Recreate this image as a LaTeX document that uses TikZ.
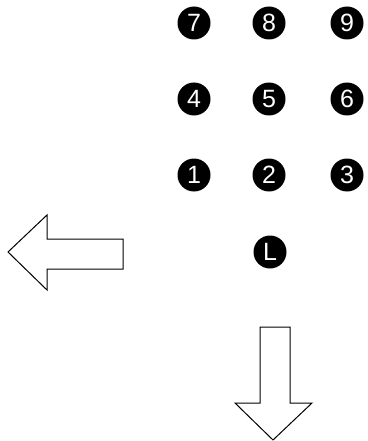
\documentclass[tikz,border=0pt]{standalone}
\usepackage{fontspec}
\setmainfont{Liberation Sans}
\begin{document}
\begin{tikzpicture}[x=1pt,y=-1pt,
  dot/.style={circle,fill=black,text=white,inner sep=0pt,minimum size=33pt,font=\fontsize{25}{25}\selectfont},
  arrowshape/.style={draw=black,line width=1pt,fill=white,line join=miter}]
\useasboundingbox (0,0) rectangle (367,441);
\node[dot] (n7) at (194,23) {7};
\node[dot] (n8) at (269,23) {8};
\node[dot] (n9) at (347,23) {9};
\node[dot] (n4) at (194,99) {4};
\node[dot] (n5) at (269,99) {5};
\node[dot] (n6) at (347,99) {6};
\node[dot] (n1) at (194,175) {1};
\node[dot] (n2) at (269,175) {2};
\node[dot] (n3) at (347,175) {3};
\node[dot] (nL) at (270,252) {L};
% left arrow
\draw[arrowshape] (8,252) -- (47,215) -- (47,239) -- (123,239) -- (123,269) -- (47,269) -- (47,290) -- cycle;
% down arrow
\draw[arrowshape] (273,440) -- (235,403) -- (260,403) -- (260,327) -- (290,327) -- (290,403) -- (312,403) -- cycle;
\end{tikzpicture}
\end{document}
